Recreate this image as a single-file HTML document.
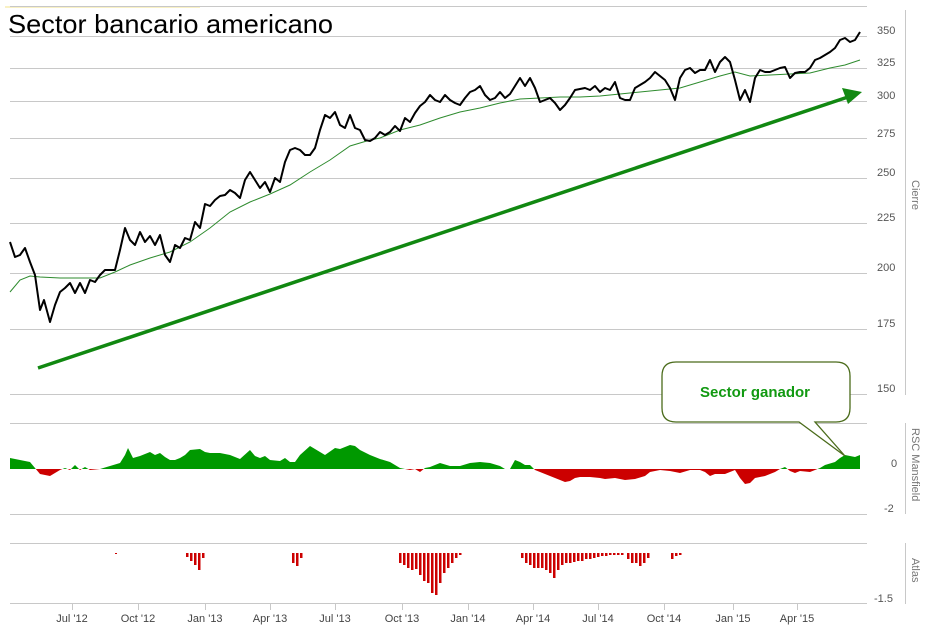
<!DOCTYPE html>
<html><head><meta charset="utf-8"><style>
body{margin:0;background:#fff;}
svg{display:block;font-family:"Liberation Sans",sans-serif;}
</style></head><body>
<svg width="935" height="628" viewBox="0 0 935 628" xmlns="http://www.w3.org/2000/svg">
<defs>
<clipPath id="above"><rect x="0" y="0" width="935" height="469"/></clipPath>
<clipPath id="below"><rect x="0" y="469" width="935" height="100"/></clipPath>
</defs>
<line x1="5" y1="7" x2="200" y2="7" stroke="#f3e38a" stroke-width="1"/>
<g stroke="#c8c8c8" stroke-width="1">
<line x1="10" y1="6.5" x2="867" y2="6.5"/>
<line x1="10" y1="36.5" x2="867" y2="36.5"/>
<line x1="10" y1="68.5" x2="867" y2="68.5"/>
<line x1="10" y1="101.5" x2="867" y2="101.5"/>
<line x1="10" y1="138.5" x2="867" y2="138.5"/>
<line x1="10" y1="178.5" x2="867" y2="178.5"/>
<line x1="10" y1="223.5" x2="867" y2="223.5"/>
<line x1="10" y1="273.5" x2="867" y2="273.5"/>
<line x1="10" y1="329.5" x2="867" y2="329.5"/>
<line x1="10" y1="394.5" x2="867" y2="394.5"/>
<line x1="10" y1="423.5" x2="867" y2="423.5"/>
<line x1="10" y1="514.5" x2="867" y2="514.5"/>
<line x1="10" y1="543.5" x2="867" y2="543.5"/>
<line x1="10" y1="603.5" x2="867" y2="603.5"/>
<line x1="905.5" y1="10" x2="905.5" y2="395"/>
<line x1="905.5" y1="423" x2="905.5" y2="514"/>
<line x1="905.5" y1="543" x2="905.5" y2="604"/>
</g>
<g stroke="#c8c8c8"><line x1="72.5" y1="603" x2="72.5" y2="610"/><line x1="138.5" y1="603" x2="138.5" y2="610"/><line x1="205.5" y1="603" x2="205.5" y2="610"/><line x1="270.5" y1="603" x2="270.5" y2="610"/><line x1="335.5" y1="603" x2="335.5" y2="610"/><line x1="402.5" y1="603" x2="402.5" y2="610"/><line x1="468.5" y1="603" x2="468.5" y2="610"/><line x1="533.5" y1="603" x2="533.5" y2="610"/><line x1="598.5" y1="603" x2="598.5" y2="610"/><line x1="664.5" y1="603" x2="664.5" y2="610"/><line x1="733.5" y1="603" x2="733.5" y2="610"/><line x1="797.5" y1="603" x2="797.5" y2="610"/></g>
<text x="8" y="33" font-size="26" fill="#000" textLength="325" lengthAdjust="spacingAndGlyphs">Sector bancario americano</text>
<g font-size="11" fill="#555" text-anchor="start">
<text x="877" y="34">350</text><text x="877" y="66">325</text><text x="877" y="99">300</text><text x="877" y="137">275</text><text x="877" y="176">250</text><text x="877" y="221">225</text><text x="877" y="271">200</text><text x="877" y="327">175</text><text x="877" y="392">150</text>
<text x="891" y="467">0</text><text x="884" y="512">-2</text><text x="874" y="602">-1.5</text>
</g>
<g font-size="11" fill="#777">
<text transform="translate(912,180) rotate(90)">Cierre</text>
<text transform="translate(912,428) rotate(90)">RSC Mansfield</text>
<text transform="translate(912,558) rotate(90)">Atlas</text>
</g>
<g font-size="11" fill="#444" text-anchor="middle">
<text x="72" y="622">Jul '12</text><text x="138" y="622">Oct '12</text><text x="205" y="622">Jan '13</text><text x="270" y="622">Apr '13</text><text x="335" y="622">Jul '13</text><text x="402" y="622">Oct '13</text><text x="468" y="622">Jan '14</text><text x="533" y="622">Apr '14</text><text x="598" y="622">Jul '14</text><text x="664" y="622">Oct '14</text><text x="733" y="622">Jan '15</text><text x="797" y="622">Apr '15</text>
</g>
<polyline fill="none" stroke="#2e8b2e" stroke-width="1" points="10,292 20,280 30,276 40,277 60,278 80,278 100,278 115,272 130,265 150,258 170,252 190,242 210,228 230,212 250,202 270,194 290,185 310,172 330,160 350,146 370,140 380,138 400,130 420,125 440,118 460,112 480,108 500,103 520,99 540,98 560,97 580,97 600,96 620,94 640,92 660,90 680,88 700,82 720,76 735,72 750,76 770,75 790,74 810,73 830,68 845,65 860,60"/>
<polyline fill="none" stroke="#000" stroke-width="2" stroke-linejoin="round" points="10,242 15,257 20,255 25,248 30,262 35,275 40,310 44,300 50,322 55,305 60,292 65,288 70,283 75,293 80,283 85,293 90,280 95,282 100,275 105,270 110,270 115,270 120,250 125,228 130,240 135,245 140,232 145,242 150,236 155,245 160,235 165,255 170,262 175,245 180,248 185,238 190,240 195,222 200,228 205,204 210,206 215,200 220,196 225,195 230,190 235,193 240,198 245,180 250,172 255,180 260,188 265,182 270,192 275,178 280,182 285,162 290,150 295,148 300,150 305,155 310,155 315,148 320,130 325,115 330,118 335,112 340,125 345,128 350,115 355,128 360,130 365,140 370,141 375,138 380,132 385,135 390,132 395,126 400,131 405,118 410,122 415,113 420,106 425,102 430,95 435,100 440,102 445,95 450,100 455,103 460,105 465,98 470,92 475,90 480,86 485,95 490,100 495,98 500,92 505,98 510,94 515,86 520,78 525,86 530,78 535,88 540,102 545,100 550,98 555,103 560,110 565,105 570,98 575,90 580,89 585,88 590,90 595,86 600,92 605,88 610,90 615,82 620,98 625,100 630,100 635,88 640,85 645,82 650,78 655,72 660,76 665,80 670,88 675,100 680,78 685,70 690,68 695,73 700,70 705,70 710,60 715,72 720,62 725,57 730,62 735,80 740,100 745,90 750,102 755,78 760,70 765,72 770,72 775,70 780,68 785,67 790,78 795,73 800,72 805,72 810,68 815,60 820,58 825,55 830,52 835,48 840,40 845,38 850,42 855,40 860,32"/>
<line x1="38" y1="368" x2="848" y2="97" stroke="#118811" stroke-width="3.5"/>
<polygon points="862,92 842,88 848,104" fill="#118811"/>
<path d="M10,469 L10,458 20,460 30,462 35,468 40,474 50,476 60,470 65,468 70,470 75,465 80,470 85,467 90,470 100,469 110,466 120,463 125,455 128,448 133,458 140,456 150,452 155,455 160,453 165,457 170,460 175,460 180,458 185,455 190,450 200,449 205,452 210,453 220,453 230,455 240,459 250,450 255,456 260,458 265,456 270,460 280,461 285,458 290,462 295,462 300,455 310,446 320,452 325,455 335,448 340,449 345,447 350,445 355,446 360,450 370,455 380,459 390,462 400,468 410,470 415,469 420,472 425,468 430,467 440,463 450,466 460,466 470,463 480,462 490,463 500,466 505,469 510,469 515,460 520,462 525,465 530,465 535,470 545,474 555,478 565,482 570,481 575,478 580,477 590,477 600,478 605,479 615,478 625,480 635,479 645,476 650,472 660,470 670,471 680,473 690,470 700,470 705,472 710,476 715,474 725,474 735,470 740,478 745,484 750,483 755,478 765,476 775,472 780,469 785,467 790,471 795,473 800,471 810,472 815,470 820,468 825,465 835,462 840,458 845,455 850,456 855,457 860,455 L860,469 Z" fill="#009900" clip-path="url(#above)"/>
<path d="M10,469 L10,458 20,460 30,462 35,468 40,474 50,476 60,470 65,468 70,470 75,465 80,470 85,467 90,470 100,469 110,466 120,463 125,455 128,448 133,458 140,456 150,452 155,455 160,453 165,457 170,460 175,460 180,458 185,455 190,450 200,449 205,452 210,453 220,453 230,455 240,459 250,450 255,456 260,458 265,456 270,460 280,461 285,458 290,462 295,462 300,455 310,446 320,452 325,455 335,448 340,449 345,447 350,445 355,446 360,450 370,455 380,459 390,462 400,468 410,470 415,469 420,472 425,468 430,467 440,463 450,466 460,466 470,463 480,462 490,463 500,466 505,469 510,469 515,460 520,462 525,465 530,465 535,470 545,474 555,478 565,482 570,481 575,478 580,477 590,477 600,478 605,479 615,478 625,480 635,479 645,476 650,472 660,470 670,471 680,473 690,470 700,470 705,472 710,476 715,474 725,474 735,470 740,478 745,484 750,483 755,478 765,476 775,472 780,469 785,467 790,471 795,473 800,471 810,472 815,470 820,468 825,465 835,462 840,458 845,455 850,456 855,457 860,455 L860,469 Z" fill="#cc0000" clip-path="url(#below)"/>
<g fill="#cc0000">
<rect x="115" y="553" width="2" height="1"/>
<rect x="186" y="553" width="2.5" height="4"/><rect x="190" y="553" width="2.5" height="8"/><rect x="194" y="553" width="2.5" height="12"/><rect x="198" y="553" width="2.5" height="17"/><rect x="202" y="553" width="2.5" height="5"/>
<rect x="292" y="553" width="2.5" height="10"/><rect x="296" y="553" width="2.5" height="13"/><rect x="300" y="553" width="2.5" height="5"/>
<rect x="399" y="553" width="2.5" height="10"/><rect x="403" y="553" width="2.5" height="12"/><rect x="407" y="553" width="2.5" height="15"/><rect x="411" y="553" width="2.5" height="17"/><rect x="415" y="553" width="2.5" height="16"/><rect x="419" y="553" width="2.5" height="22"/><rect x="423" y="553" width="2.5" height="28"/><rect x="427" y="553" width="2.5" height="30"/><rect x="431" y="553" width="2.5" height="40"/><rect x="435" y="553" width="2.5" height="42"/><rect x="439" y="553" width="2.5" height="30"/><rect x="443" y="553" width="2.5" height="20"/><rect x="447" y="553" width="2.5" height="15"/><rect x="451" y="553" width="2.5" height="10"/><rect x="455" y="553" width="2.5" height="5"/><rect x="459" y="553" width="2.5" height="2"/>
<rect x="521" y="553" width="2.5" height="5"/><rect x="525" y="553" width="2.5" height="10"/><rect x="529" y="553" width="2.5" height="12"/><rect x="533" y="553" width="2.5" height="15"/><rect x="537" y="553" width="2.5" height="15"/><rect x="541" y="553" width="2.5" height="15"/><rect x="545" y="553" width="2.5" height="17"/><rect x="549" y="553" width="2.5" height="20"/><rect x="553" y="553" width="2.5" height="25"/><rect x="557" y="553" width="2.5" height="17"/><rect x="561" y="553" width="2.5" height="12"/><rect x="565" y="553" width="2.5" height="10"/><rect x="569" y="553" width="2.5" height="10"/><rect x="573" y="553" width="2.5" height="9"/><rect x="577" y="553" width="2.5" height="8"/><rect x="581" y="553" width="2.5" height="8"/><rect x="585" y="553" width="2.5" height="6"/><rect x="589" y="553" width="2.5" height="6"/><rect x="593" y="553" width="2.5" height="5"/><rect x="597" y="553" width="2.5" height="4"/><rect x="601" y="553" width="2.5" height="3"/><rect x="605" y="553" width="2.5" height="3"/><rect x="609" y="553" width="2.5" height="2"/><rect x="613" y="553" width="2.5" height="2"/><rect x="617" y="553" width="2.5" height="2"/><rect x="621" y="553" width="2.5" height="2"/>
<rect x="627" y="553" width="2.5" height="6"/><rect x="631" y="553" width="2.5" height="10"/><rect x="635" y="553" width="2.5" height="10"/><rect x="639" y="553" width="2.5" height="13"/><rect x="643" y="553" width="2.5" height="10"/><rect x="647" y="553" width="2.5" height="5"/>
<rect x="671" y="553" width="2.5" height="6"/><rect x="675" y="553" width="2.5" height="3"/><rect x="679" y="553" width="2.5" height="2"/>
</g>
<path d="M676,362 L836,362 Q850,362 850,376 L850,408 Q850,422 836,422 L815,422 L845,456 L799,422 L676,422 Q662,422 662,408 L662,376 Q662,362 676,362 Z" fill="#fff" stroke="#4a6b1a" stroke-width="1.3"/>
<text x="755" y="397" font-size="15" font-weight="bold" fill="#119911" text-anchor="middle">Sector ganador</text>
</svg>
</body></html>
